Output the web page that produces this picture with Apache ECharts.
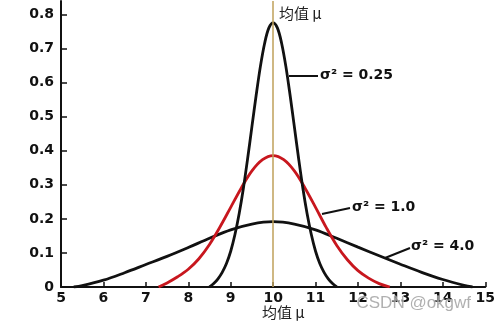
<!DOCTYPE html>
<html>
<head>
<meta charset="utf-8">
<script src="https://cdn.jsdelivr.net/npm/echarts@6/dist/echarts.min.js"></script>
<style>html,body{margin:0;padding:0;background:#fff}#c{width:498px;height:324px}</style>
</head>
<body>
<div id="c"></div>
<script>
// Data
const narrowX = [8.5,8.6,8.7,8.8,8.9,9.0,9.1,9.2,9.3,9.4,9.5,9.6,9.7,9.8,9.9,10.0,10.1,10.2,10.3,10.4,10.5,10.6,10.7,10.8,10.9,11.0,11.1,11.2,11.3,11.4,11.5];
const narrowY = [0,0.010,0.024,0.043,0.069,0.105,0.154,0.216,0.291,0.378,0.471,0.563,0.648,0.716,0.761,0.776,0.761,0.716,0.648,0.563,0.471,0.378,0.291,0.216,0.154,0.105,0.069,0.043,0.024,0.010,0];
const midX = [7.3,7.5,7.75,8.0,8.25,8.5,8.75,9.0,9.25,9.5,9.75,10.0,10.25,10.5,10.75,11.0,11.25,11.5,11.75,12.0,12.25,12.5,12.75];
const midY = [0,0.012,0.030,0.052,0.083,0.125,0.177,0.234,0.291,0.341,0.374,0.386,0.374,0.341,0.291,0.234,0.175,0.122,0.080,0.048,0.026,0.010,0];
const wideX = [5.3,5.5,6.0,6.5,7.0,7.5,8.0,8.5,9.0,9.5,10.0,10.5,11.0,11.5,12.0,12.5,13.0,13.5,14.0,14.5,14.7];
const wideY = [0,0.004,0.020,0.042,0.066,0.090,0.116,0.143,0.168,0.185,0.192,0.185,0.168,0.143,0.117,0.092,0.067,0.043,0.022,0.005,0];
const yTicks = [0,0.1,0.2,0.3,0.4,0.5,0.6,0.7,0.8];
const meanValue = 10;
const labels = ['σ² = 0.25','σ² = 1.0','σ² = 4.0'];

const zip = (xs, ys) => xs.map((x, i) => [x, ys[i]]);
const chart = echarts.init(document.getElementById('c'), null, {renderer: 'canvas'});
const lblFont = {fontFamily: 'DejaVu Sans', fontWeight: 'bold', fontSize: 14, color: '#111'};
const curve = (name, data, color) => ({
  name, type: 'line', data, smooth: 0.35, symbol: 'none',
  lineStyle: {color, width: 2.8}, z: 3
});
chart.setOption({
  animation: false,
  grid: {left: 61, right: 11, top: 1, bottom: 37},
  xAxis: {
    type: 'value', min: 5, max: 15, interval: 1,
    axisLine: {lineStyle: {color: '#111', width: 2}},
    axisTick: {inside: true, length: 5, lineStyle: {color: '#111', width: 1.5}},
    axisLabel: Object.assign({margin: 4}, lblFont),
    splitLine: {show: false}
  },
  yAxis: {
    type: 'value', min: 0, max: 0.84,
    axisLine: {show: true, lineStyle: {color: '#111', width: 2}},
    axisTick: {show: true, inside: true, length: 6, customValues: yTicks, lineStyle: {color: '#111', width: 1.5}},
    axisLabel: Object.assign({margin: 7, customValues: yTicks, formatter: v => String(+v.toFixed(1))}, lblFont),
    splitLine: {show: false}
  },
  series: [
    Object.assign(curve('σ²=4.0', zip(wideX, wideY), '#111'), {
      markLine: {
        silent: true, symbol: 'none', label: {show: false},
        lineStyle: {color: '#bfa15a', width: 1.5, type: 'solid'},
        data: [{xAxis: meanValue}]
      }
    }),
    curve('σ²=1.0', zip(midX, midY), '#c8171e'),
    curve('σ²=0.25', zip(narrowX, narrowY), '#111')
  ],
  graphic: [
    {type: 'text', left: 279, top: 6, style: {text: '均值 μ', fontFamily: 'Noto Sans CJK SC', fontSize: 15, fill: '#222'}},
    {type: 'text', left: 262, top: 305, style: {text: '均值 μ', fontFamily: 'Noto Sans CJK SC', fontSize: 15, fill: '#222'}},
    {type: 'line', shape: {x1: 289, y1: 76, x2: 318, y2: 76}, style: {stroke: '#111', lineWidth: 2}},
    {type: 'text', left: 320, top: 68, style: {text: labels[0], fontFamily: 'DejaVu Sans', fontWeight: 'bold', fontSize: 14, fill: '#111'}},
    {type: 'line', shape: {x1: 322, y1: 214, x2: 350, y2: 208}, style: {stroke: '#111', lineWidth: 2}},
    {type: 'text', left: 352, top: 200, style: {text: labels[1], fontFamily: 'DejaVu Sans', fontWeight: 'bold', fontSize: 14, fill: '#111'}},
    {type: 'line', shape: {x1: 385, y1: 258, x2: 410, y2: 248}, style: {stroke: '#111', lineWidth: 2}},
    {type: 'text', left: 411, top: 239, style: {text: labels[2], fontFamily: 'DejaVu Sans', fontWeight: 'bold', fontSize: 14, fill: '#111'}},
    {type: 'text', left: 356, top: 294, z: 10, style: {text: 'CSDN @okgwf', fontFamily: 'Liberation Sans', fontSize: 17, fill: 'rgba(150,150,150,0.75)', stroke: 'rgba(255,255,255,0.6)', lineWidth: 1}}
  ]
});
</script>
</body>
</html>
